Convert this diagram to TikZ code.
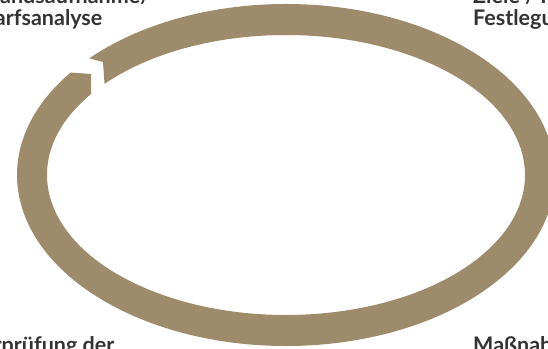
\documentclass[tikz,border=0pt]{standalone}
\usepackage{fontspec}
\setmainfont{Lato}
\definecolor{ringcol}{RGB}{157,139,107}
\definecolor{txtcol}{RGB}{51,51,51}
\tikzset{
  lbl/.style={inner sep=0pt, align=left, text=txtcol, font=\fontsize{21.5pt}{22pt}\selectfont\bfseries},
  ringfill/.style={fill=ringcol, draw=none}
}
\begin{document}
\begin{tikzpicture}[x=1pt,y=1pt]
\useasboundingbox (0,0) rectangle (548,348);
\clip (0,0) rectangle (548,348);
\coordinate (c) at (286,173);
\fill[ringfill]
  ([shift={(c)}]137:269pt and 171pt)
  arc[start angle=137, end angle=-216.8, x radius=269pt, y radius=171pt]
  -- (91,274)
  -- ([shift={(c)}]-215.4:239pt and 140pt)
  arc[start angle=-215.4, end angle=139.4, x radius=239pt, y radius=140pt]
  -- (103,286) -- cycle;
\node[lbl, anchor=base west] (tl) at (-43,322) {Bestandsaufnahme/\\Bedarfsanalyse};
\node[lbl, anchor=base west] (tr) at (473,322) {Ziele / Kennzahlen\\Festlegung};
\node[lbl, anchor=base west] (bl) at (-46,-26) {Überprüfung der\\Wirksamkeit};
\node[lbl, anchor=base west] (br) at (473,-26) {Maßnahmen\\umsetzen};
\end{tikzpicture}
\end{document}
